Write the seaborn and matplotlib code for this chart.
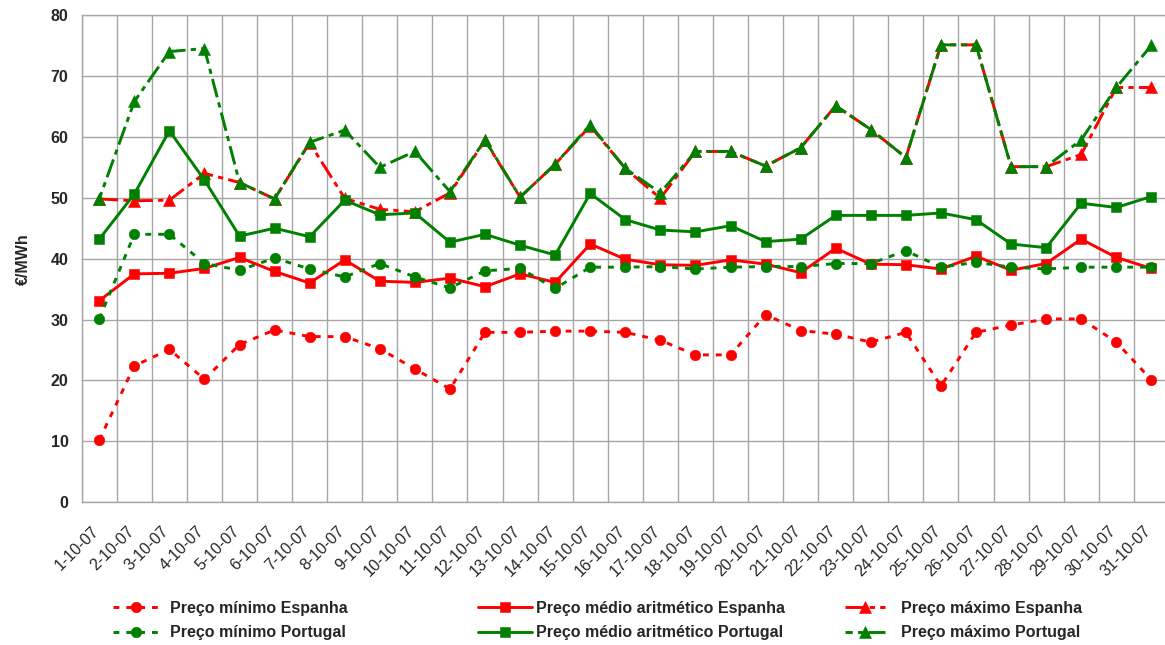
import matplotlib
matplotlib.use("Agg")
import matplotlib.pyplot as plt
import matplotlib.transforms as mtransforms
import numpy as np
import pandas as pd
import seaborn as sns

days = ["1-10-07", "2-10-07", "3-10-07", "4-10-07", "5-10-07", "6-10-07", "7-10-07",
        "8-10-07", "9-10-07", "10-10-07", "11-10-07", "12-10-07", "13-10-07", "14-10-07",
        "15-10-07", "16-10-07", "17-10-07", "18-10-07", "19-10-07", "20-10-07", "21-10-07",
        "22-10-07", "23-10-07", "24-10-07", "25-10-07", "26-10-07", "27-10-07", "28-10-07",
        "29-10-07", "30-10-07", "31-10-07"]

min_es = [10.2, 22.4, 25.1, 20.2, 25.9, 28.3, 27.2, 27.2, 25.2, 21.9, 18.6, 27.9, 27.9, 28.1,
          28.1, 27.9, 26.6, 24.2, 24.2, 30.8, 28.2, 27.6, 26.3, 27.9, 19.1, 27.9, 29.1, 30.1,
          30.1, 26.3, 20.1]
avg_es = [33.1, 37.5, 37.6, 38.4, 40.2, 37.9, 36.0, 39.8, 36.3, 36.1, 36.8, 35.4, 37.5, 36.1,
          42.4, 39.9, 39.0, 38.9, 39.8, 39.1, 37.7, 41.7, 39.1, 39.0, 38.3, 40.4, 38.1, 39.2,
          43.2, 40.2, 38.4]
max_es = [49.8, 49.5, 49.6, 54.0, 52.5, 49.8, 59.0, 49.9, 48.1, 47.7, 50.8, 59.4, 50.1, 55.5,
          61.8, 54.8, 49.9, 57.6, 57.6, 55.2, 58.2, 65.1, 61.2, 56.6, 75.1, 75.1, 55.1, 55.1,
          57.1, 68.1, 68.1]
min_pt = [30.1, 44.0, 44.0, 39.2, 38.1, 40.1, 38.3, 37.0, 39.2, 37.0, 35.2, 38.0, 38.4, 35.1,
          38.6, 38.6, 38.7, 38.3, 38.6, 38.7, 38.7, 39.2, 39.2, 41.3, 38.6, 39.4, 38.6, 38.3,
          38.6, 38.6, 38.6]
avg_pt = [43.2, 50.6, 61.0, 52.9, 43.7, 45.0, 43.6, 49.6, 47.2, 47.5, 42.7, 44.0, 42.2, 40.6,
          50.7, 46.4, 44.7, 44.4, 45.4, 42.8, 43.2, 47.1, 47.1, 47.1, 47.5, 46.4, 42.4, 41.8,
          49.1, 48.4, 50.2]
max_pt = [49.8, 65.8, 74.0, 74.5, 52.5, 49.8, 59.1, 61.1, 55.0, 57.6, 51.0, 59.5, 50.1, 55.5,
          62.0, 54.8, 50.8, 57.6, 57.6, 55.2, 58.2, 65.1, 61.2, 56.6, 75.1, 75.1, 55.1, 55.1,
          59.5, 68.1, 75.0]

labels = ["Preço mínimo Espanha", "Preço médio aritmético Espanha", "Preço máximo Espanha",
          "Preço mínimo Portugal", "Preço médio aritmético Portugal", "Preço máximo Portugal"]
y_label = "€/MWh"

sns.set_style("white")
plt.rcParams["font.family"] = ["Liberation Sans", "DejaVu Sans"]

RED = "#FF0000"
GREEN = "#008000"
FS = 11.5

fig = plt.figure(figsize=(11.65, 6.45), dpi=100)
ax = fig.add_axes([81.7 / 1165, 1 - 502.3 / 645, (1168.9 - 81.7) / 1165, (502.3 - 15) / 645])

x = np.arange(len(days))
df = pd.DataFrame({"x": x, "min_es": min_es, "avg_es": avg_es, "max_es": max_es,
                   "min_pt": min_pt, "avg_pt": avg_pt, "max_pt": max_pt})

lw = 2.1
min_ls = (0, (2.0, 2.4))
max_ls_r = (0, (6.5, 1.8, 1.8, 1.8))
max_ls_g = (4, (6.5, 1.8, 1.8, 1.8))

specs = [
    ("min_es", RED, "o", 7.6, min_ls),
    ("avg_es", RED, "s", 7.8, "-"),
    ("max_es", RED, "^", 8.5, max_ls_r),
    ("min_pt", GREEN, "o", 7.6, min_ls),
    ("avg_pt", GREEN, "s", 7.8, "-"),
    ("max_pt", GREEN, "^", 8.5, max_ls_g),
]
handles = []
for col, color, mk, ms, ls in specs:
    sns.lineplot(data=df, x="x", y=col, ax=ax, color=color, marker=mk, markersize=ms,
                 markeredgecolor=color, markeredgewidth=0.4, linewidth=lw, linestyle=ls,
                 legend=False, errorbar=None)
    handles.append(ax.lines[-1])

ax.set_xlim(-0.5, len(days) - 0.5)
ax.set_ylim(0, 80)
ax.set_yticks(np.arange(0, 81, 10))
ax.set_xticks(x)
ax.set_xticklabels([])
ax.set_xticks(np.arange(-0.5, len(days), 1.0), minor=True)
ax.tick_params(axis="x", which="both", length=0)
ax.tick_params(axis="y", length=0, pad=9.5, labelsize=FS)
for t in ax.get_yticklabels():
    t.set_fontweight("bold")

# category labels, rotated 45 degrees below the axis
lab_tr = ax.get_xaxis_transform() + mtransforms.ScaledTranslation(-8 / 100, -21 / 100,
                                                                   fig.dpi_scale_trans)
for xi, d in zip(x, days):
    ax.text(xi, 0, d, transform=lab_tr, rotation=45, ha="right", va="top",
            rotation_mode="anchor", fontsize=FS, clip_on=False)

grid_c = "#A6A6A6"
ax.grid(False)
ax.yaxis.grid(True, color=grid_c, linewidth=1.0)
ax.xaxis.grid(True, which="minor", color=grid_c, linewidth=1.0)
ax.set_axisbelow(True)
for s in ["left", "bottom", "top"]:
    ax.spines[s].set_visible(True)
    ax.spines[s].set_color(grid_c)
    ax.spines[s].set_linewidth(1.0)
ax.spines["right"].set_visible(False)

ax.set_xlabel("")
ax.set_ylabel(y_label, fontsize=FS, fontweight="bold", labelpad=14)

leg_y = 1 - 620.5 / 645
cols = [
    (113, [0, 3], 2.9, 0.7),
    (478, [1, 4], 3.4, 0.2),
    (845, [2, 5], 2.5, 1.0),
]
for xpix, idx, hl, htp in cols:
    fig.legend([handles[i] for i in idx], [labels[i] for i in idx],
               loc="center left", bbox_to_anchor=(xpix / 1165, leg_y),
               frameon=False, borderpad=0, borderaxespad=0, handlelength=hl,
               handletextpad=htp, labelspacing=0.62,
               prop={"weight": "bold", "size": FS})

fig.savefig("out.png", dpi=100)
